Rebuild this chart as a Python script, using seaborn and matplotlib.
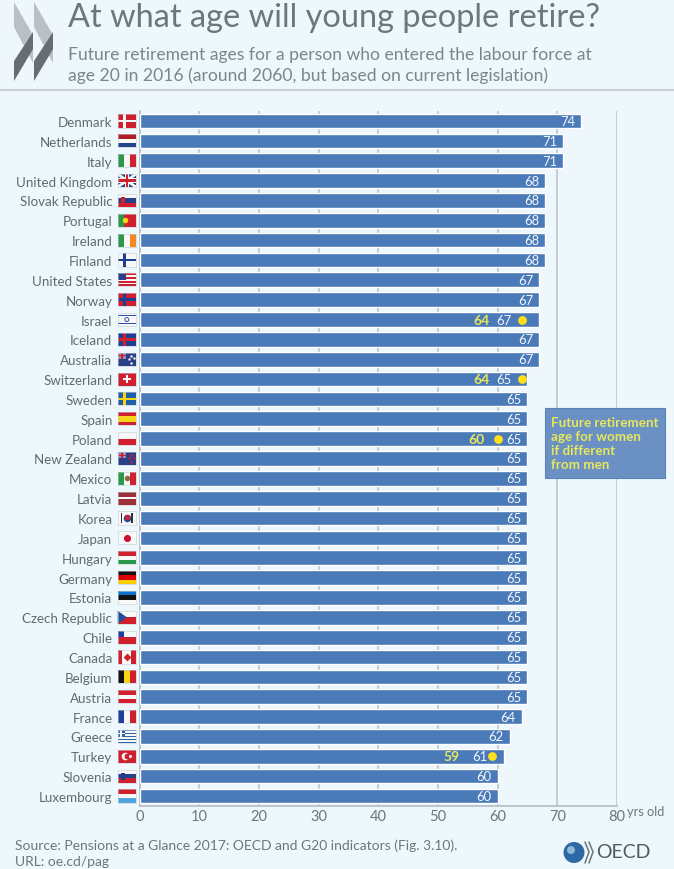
import matplotlib
matplotlib.use("Agg")
import matplotlib.pyplot as plt
from matplotlib.patches import Rectangle, Polygon, Circle, Wedge
import pandas as pd
import seaborn as sns

countries = ["Denmark","Netherlands","Italy","United Kingdom","Slovak Republic","Portugal","Ireland","Finland",
             "United States","Norway","Israel","Iceland","Australia","Switzerland","Sweden","Spain","Poland",
             "New Zealand","Mexico","Latvia","Korea","Japan","Hungary","Germany","Estonia","Czech Republic",
             "Chile","Canada","Belgium","Austria","France","Greece","Turkey","Slovenia","Luxembourg"]
ages = [74,71,71,68,68,68,68,68,67,67,67,67,67,65,65,65,65,65,65,65,65,65,65,65,65,65,65,65,65,65,64,62,61,60,60]
women_countries = ["Israel","Switzerland","Poland","Turkey"]
women_ages = [64,64,60,59]
xticks = [0,10,20,30,40,50,60,70,80]

BG = "#eef7fb"; BAR = "#4a7ab8"; GREY = "#5f6b73"; GRID = "#b7c1c7"; YEL = "#ffdf1a"; LY = "#e8e85a"
R="#d0202e"; W="#f8f8f8"; B="#27408b"; G="#2a9a4a"; Y="#f7d417"; K="#111111"; LB="#4fa5dc"; O="#f08a24"
flags = {
 "Denmark":("n",R,W),"Netherlands":("h",["#ae1c28",W,"#21468b"]),"Italy":("v",[G,W,R]),"United Kingdom":("uk",),
 "Slovak Republic":("hd",[W,B,R],R),"Portugal":("vd",[G,R,R],Y),"Ireland":("v",[G,W,O]),"Finland":("n",W,"#1c3f94"),
 "United States":("us",),"Norway":("n",R,"#1c3f94"),"Israel":("hb",),"Iceland":("n","#1c3f94",R),"Australia":("au",),
 "Switzerland":("p",R,W),"Sweden":("n","#1f5fa8",Y),"Spain":("h",[R,Y,Y,R]),"Poland":("h",[W,R]),"New Zealand":("au",),
 "Mexico":("vd",[G,W,R],"#8a6a3a"),"Latvia":("h",["#9e3039","#9e3039",W,"#9e3039","#9e3039"]),"Korea":("kr",),
 "Japan":("d",W,"#c9102f"),"Hungary":("h",[R,W,G]),"Germany":("h",[K,"#dd0000","#ffce00"]),"Estonia":("h",["#0a72ce",K,W]),
 "Czech Republic":("cz",),"Chile":("cl",),"Canada":("ca",),"Belgium":("v",[K,Y,R]),"Austria":("h",[R,W,R]),
 "France":("v",["#1f3f9c",W,R]),"Greece":("gr",),"Turkey":("tr",),"Slovenia":("hd",[W,B,R],B),"Luxembourg":("h",[R,W,LB]),
}

sns.set_theme(style="white")
plt.rcParams["font.family"] = ["Lato","DejaVu Sans"]
W_PX, H_PX = 674, 870
fig = plt.figure(figsize=(W_PX/100, H_PX/100), dpi=100, facecolor=BG)
ax = fig.add_axes([139.5/W_PX, 1-806.9/H_PX, (617-139.5)/W_PX, (806.9-112.07)/H_PX], facecolor=BG)
df = pd.DataFrame({"country":countries,"age":ages})
ax.set_axisbelow(True)
sns.barplot(data=df, x="age", y="country", order=countries, color=BAR, saturation=1, width=0.74, ax=ax, zorder=3, orient="h")
idx = {c:i for i,c in enumerate(countries)}
wdf = pd.DataFrame({"country":women_countries,"age":women_ages,"row":[idx[c] for c in women_countries]})
sns.scatterplot(data=wdf,x="age",y="row",color=YEL,s=40,linewidth=0,ax=ax,zorder=5,legend=False)
ax.set_xlim(0,80); ax.set_ylim(34.5,-0.5)
ax.set_xlabel(""); ax.set_ylabel("")
ax.set_xticks(xticks)
ax.xaxis.grid(True,color=GRID,lw=1.1,zorder=0); ax.yaxis.grid(False)
for s in ["top","right"]: ax.spines[s].set_visible(False)
for s in ["left","bottom"]:
    ax.spines[s].set_color(GRID); ax.spines[s].set_linewidth(1.3)
ax.tick_params(axis="x",length=0,pad=2,labelsize=10.5,labelcolor="#6b767d")
ax.tick_params(axis="y",length=0,pad=19.5,labelsize=9.6,labelcolor=GREY)

women = dict(zip(women_countries,women_ages))
for c,a in zip(countries,ages):
    i = idx[c]; x = a-2.3
    if c in women:
        w = women[c]
        if a-w<4:
            x = w-3.0 if c!="Turkey" else w-1.9
            wx = w-6.7
        else:
            wx = w-3.5
        ax.text(wx,i,str(w),color=LY,ha="center",va="center",fontsize=10,fontweight="bold",zorder=6)
    ax.text(x,i,str(a),color="#f2f6fa",ha="center",va="center",fontsize=9.4,zorder=6)

# flags (decoration, in data units left of the axis)
def rect(x,y,w,h,c,z=6):
    ax.add_patch(Rectangle((x,y),w,h,fc=c,ec="none",clip_on=False,zorder=z))
x0,fw=-3.65,3.05; hh=0.33
for c,spec in flags.items():
    i=idx[c]; t=i-hh; fh=2*hh; k=spec[0]
    cx=x0+fw/2
    if k in("h","hd"):
        cols=spec[1]; n=len(cols)
        for j,col in enumerate(cols): rect(x0,t+j*fh/n,fw,fh/n,col)
        if k=="hd": rect(x0+0.55,t+0.15,0.7,0.36,spec[2],7)
    elif k in("v","vd"):
        cols=spec[1]; n=len(cols)
        for j,col in enumerate(cols): rect(x0+j*fw/n,t,fw/n,fh,col)
        if k=="vd":
            ax.scatter([x0+fw*.42 if c=="Portugal" else cx],[i],s=16,color=spec[2],linewidth=0,clip_on=False,zorder=7)
    elif k=="n":
        rect(x0,t,fw,fh,spec[1]); rect(x0+fw*.3,t,fw*.17,fh,spec[2],7); rect(x0,i-.06,fw,.12,spec[2],7)
    elif k=="p":
        rect(x0,t,fw,fh,spec[1]); rect(cx-.2,i-.21,.4,.42,spec[2],7) ; rect(cx-.62,i-.07,1.24,.14,spec[2],7)
    elif k=="d":
        rect(x0,t,fw,fh,spec[1])
        ax.scatter([cx],[i],s=26,color=spec[2],linewidth=0,clip_on=False,zorder=7)
    elif k=="kr":
        rect(x0,t,fw,fh,W)
        ax.scatter([cx],[i],s=30,color="#2b4fa0",linewidth=0,clip_on=False,zorder=7)
        ax.scatter([cx],[i-.07],s=14,color=R,linewidth=0,clip_on=False,zorder=8)
        for dx in (-1.05,.75):
            rect(cx+dx,t+.08,.3,.5,"#333333",7)
    elif k=="tr":
        rect(x0,t,fw,fh,R)
        ax.scatter([cx-.25],[i],s=30,color=W,linewidth=0,clip_on=False,zorder=7)
        ax.scatter([cx-.05],[i],s=18,color=R,linewidth=0,clip_on=False,zorder=8)
        ax.scatter([cx+.5],[i],s=5,color=W,linewidth=0,clip_on=False,zorder=8)
    elif k=="uk":
        rect(x0,t,fw,fh,"#2b3f86")
        ax.plot([x0,x0+fw],[t,t+fh],color=W,lw=2,clip_on=False,zorder=7,solid_capstyle="butt")
        ax.plot([x0,x0+fw],[t+fh,t],color=W,lw=2,clip_on=False,zorder=7,solid_capstyle="butt")
        rect(cx-.3,t,.6,fh,W,8); rect(x0,i-.13,fw,.26,W,8); rect(cx-.15,t,.3,fh,R,9); rect(x0,i-.07,fw,.14,R,9)
    elif k=="us":
        for j in range(7): rect(x0,t+j*fh/7,fw,fh/7,R if j%2==0 else W)
        rect(x0,t,fw*.45,fh*.55,"#2b3f86",7)
    elif k=="hb":
        rect(x0,t,fw,fh,W); rect(x0,t+.08,fw,.09,"#2a4fb0",7); rect(x0,t+fh-.17,fw,.09,"#2a4fb0",7)
        ax.scatter([cx],[i],s=8,facecolor="none",edgecolor="#2a4fb0",linewidth=.7,clip_on=False,zorder=7)
    elif k=="au":
        rect(x0,t,fw,fh,"#2b3f86"); rect(x0,t,fw*.48,fh*.5,"#8e8fb8",7); rect(x0+fw*.2,t,fw*.08,fh*.5,R,8); rect(x0,t+fh*.21,fw*.48,fh*.08,R,8)
        ax.scatter([x0+fw*.75]*2+[x0+fw*.62,x0+fw*.88],[i-.18,i+.2,i,i-.04],s=3,color=W if c=="Australia" else R,linewidth=0,clip_on=False,zorder=8)
    elif k=="cz":
        rect(x0,t,fw,fh/2,W); rect(x0,i,fw,fh/2,R)
        ax.add_patch(Polygon([(x0,t),(x0+fw*.5,i),(x0,t+fh)],fc="#1e4f9c",ec="none",clip_on=False,zorder=7))
    elif k=="cl":
        rect(x0,t,fw,fh/2,W); rect(x0,i,fw,fh/2,R); rect(x0,t,fw*.36,fh/2,"#1a3f9c",7)
    elif k=="ca":
        rect(x0,t,fw,fh,W); rect(x0,t,fw*.26,fh,R,7); rect(x0+fw*.74,t,fw*.26,fh,R,7)
        ax.scatter([cx],[i],s=16,marker="D",color=R,linewidth=0,clip_on=False,zorder=7)
    elif k=="gr":
        for j in range(9): rect(x0,t+j*fh/9,fw,fh/9,"#2f64b0" if j%2==0 else W)
        rect(x0,t,fw*.38,fh*.55,"#2f64b0",7); rect(x0+fw*.15,t,fw*.08,fh*.55,W,8); rect(x0,t+fh*.22,fw*.38,fh*.1,W,8)
    ax.add_patch(Rectangle((x0,t),fw,fh,fc="none",ec="#c4ccd2",lw=.4,clip_on=False,zorder=10))

# page overlay in pixel coordinates for header, footer, legend
pg = fig.add_axes([0,0,1,1],facecolor="none"); pg.set_xlim(0,W_PX); pg.set_ylim(H_PX,0); pg.axis("off"); pg.set_zorder(10)
pg.plot([0,W_PX],[90.5,90.5],color="#c3cbce",lw=1.2)
for dx in (0,20):
    pg.add_patch(Polygon([(14+dx,3),(14+dx,28),(33+dx,64),(33+dx,36)],fc="#b9c1c4",ec="none"))
    pg.add_patch(Polygon([(33+dx,33),(33+dx,50),(14+dx,82),(14+dx,62)],fc="#666e72",ec="none"))
TC="#6b767d"
pg.text(68,18,"At what age will young people retire?",fontsize=23.4,color=TC,va="center",ha="left")
pg.text(68,55,"Future retirement ages for a person who entered the labour force at",fontsize=12.6,color="#7b858b",va="center")
pg.text(68,76,"age 20 in 2016 (around 2060, but based on current legislation)",fontsize=12.6,color="#7b858b",va="center")
pg.add_patch(Rectangle((545,409),120,70,fc="#6a90c4",ec="#5a82b8",lw=.8))
for y,s in zip((423,437,451,465),("Future retirement","age for women","if different","from men")):
    pg.text(551,y,s,color=LY,fontsize=9.6,fontweight="bold",va="center")
pg.text(627,812,"yrs old",fontsize=9.2,color="#6b767d",va="center")
pg.text(15,846,"Source: Pensions at a Glance 2017: OECD and G20 indicators (Fig. 3.10).",fontsize=10,color="#6b767d",va="center")
pg.text(15,862,"URL: oe.cd/pag",fontsize=10,color="#6b767d",va="center")
pg.add_patch(Circle((574,853.5),10.5,fc="#2d6aa5",ec="none"))
pg.add_patch(Circle((571,851),4,fc="#8fb8d8",ec="none"))
for dx in (0,4):
    pg.plot([585+dx,589+dx,585+dx],[843,853,864],color="#6b767d",lw=1.1)
pg.text(596,853,"OECD",fontsize=14,color="#4f5a62",va="center")
fig.savefig("out.png",dpi=100,facecolor=BG)
